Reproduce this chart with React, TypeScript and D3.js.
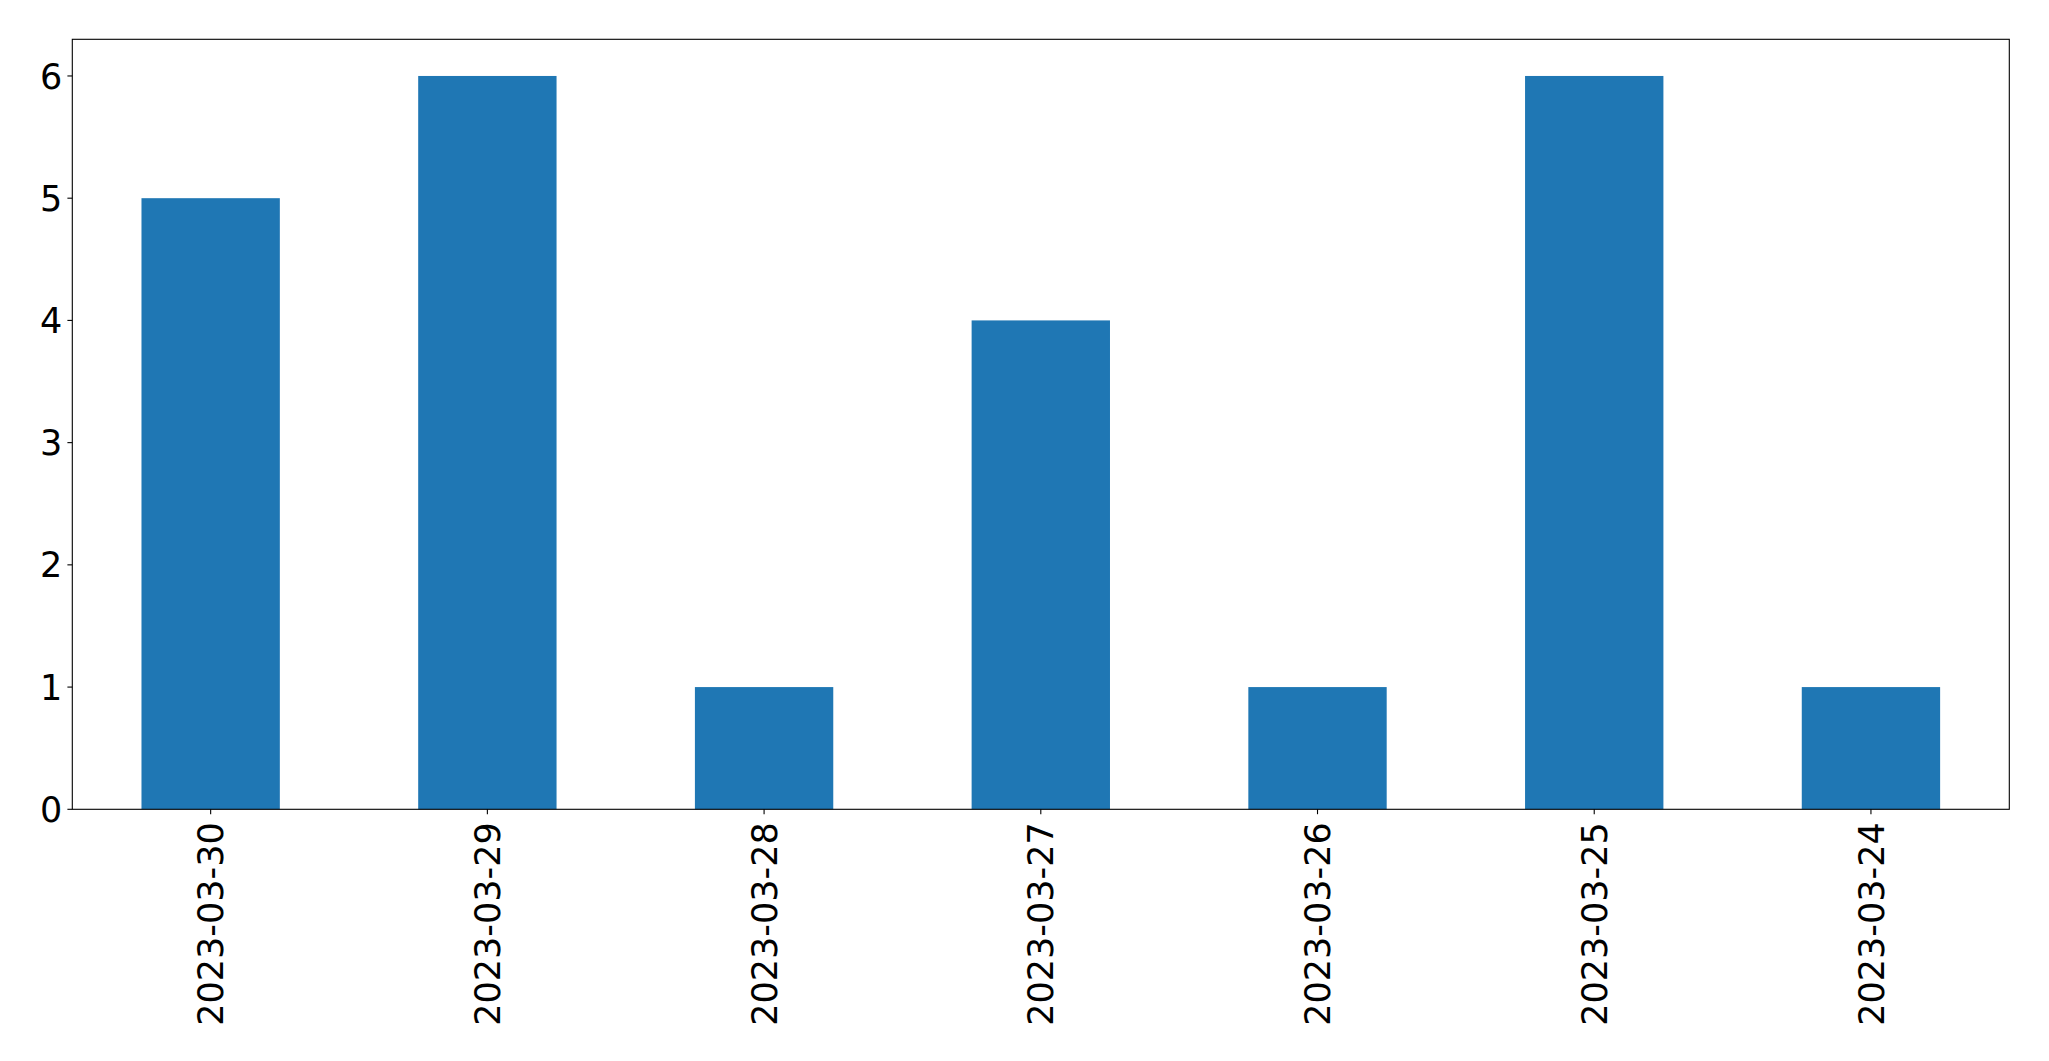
import React from "react";
import * as d3 from "d3";

const categories = ["2023-03-30", "2023-03-29", "2023-03-28", "2023-03-27", "2023-03-26", "2023-03-25", "2023-03-24"];
const values = [5, 6, 1, 4, 1, 6, 1];
const yTicks = [0, 1, 2, 3, 4, 5, 6];

export default function App() {
  const W = 2049, H = 1061;
  const left = 72.3, right = 2009.3, top = 39.3, bottom = 809.3;
  const n = categories.length;
  const x = d3.scaleLinear().domain([-0.5, n - 0.5]).range([left, right]);
  const y = d3.scaleLinear().domain([0, 6.3]).range([bottom, top]);
  const barW = x(0.25) - x(-0.25);
  const font = "'DejaVu Sans', sans-serif";
  const fs = 35;
  return (
    <svg width={W} height={H} style={{ position: "absolute", left: 0, top: 0, background: "#fff" }}>
      <rect x={0} y={0} width={W} height={H} fill="#fff" />
      {values.map((v, i) => (
        <rect key={i} x={x(i) - barW / 2} y={y(v)} width={barW} height={y(0) - y(v)} fill="#1f77b4" />
      ))}
      <rect x={left} y={top} width={right - left} height={bottom - top} fill="none" stroke="#000" strokeWidth={1.1} />
      {yTicks.map((t) => (
        <g key={t}>
          <line x1={left - 4.9} x2={left} y1={y(t)} y2={y(t)} stroke="#000" strokeWidth={1.1} />
          <text x={left - 10} y={y(t)} dy="0.36em" textAnchor="end" fontFamily={font} fontSize={fs} fill="#000">{t}</text>
        </g>
      ))}
      {categories.map((c, i) => (
        <g key={c}>
          <line x1={x(i)} x2={x(i)} y1={bottom} y2={bottom + 4.9} stroke="#000" strokeWidth={1.1} />
          <text transform={`translate(${x(i)},${bottom + 13}) rotate(-90)`} dy="0.36em" textAnchor="end" fontFamily={font} fontSize={fs} fill="#000">{c}</text>
        </g>
      ))}
    </svg>
  );
}
